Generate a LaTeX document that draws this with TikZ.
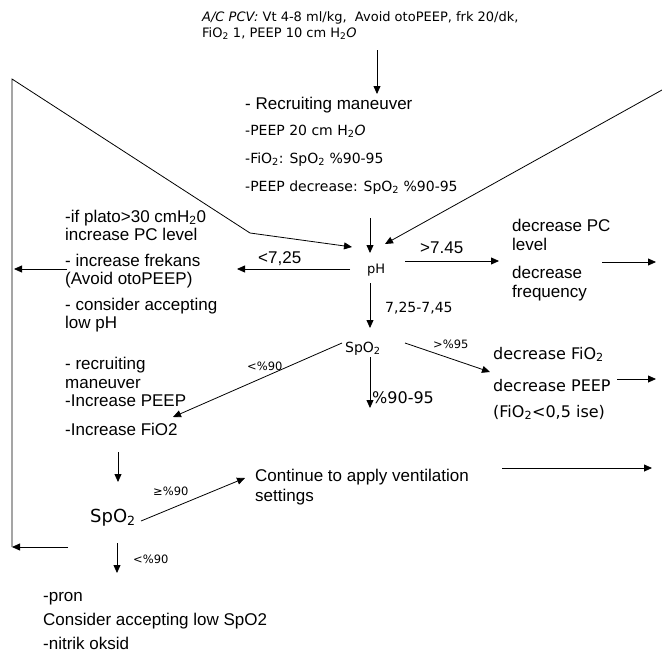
\documentclass[tikz,border=0pt]{standalone}
\usepackage{fontspec}
\setmainfont{Liberation Sans}
\newfontfamily\comic{DejaVu Sans}
\usetikzlibrary{arrows.meta}

\begin{document}
\begin{tikzpicture}[
  x=1pt, y=-1pt,
  arr/.style={-{Triangle[length=8pt,width=7pt]}, line width=0.8pt},
  txt/.style={anchor=base west, inner sep=0pt, align=left, font=\fontsize{17}{18}\selectfont},
  ctxt/.style={anchor=base west, inner sep=0pt, align=left, font=\comic\fontsize{14}{16}\selectfont},
  small/.style={font=\comic\fontsize{11.5}{13}\selectfont}
]
\useasboundingbox (0,0) rectangle (662,653);

%======================
% START + RECRUITING
%======================

% nodes (multi-line nodes sit on their last line)
\node[ctxt, font=\comic\fontsize{13}{16}\selectfont] (start) at (202,37)
  {\textit{A/C PCV:} Vt 4-8 ml/kg,\ \ Avoid otoPEEP, frk 20/dk,\\FiO\textsubscript{2} 1, PEEP 10 cm H\textsubscript{2}\textit{O}};
\node[txt] (rm) at (245,109) {- Recruiting maneuver};
\node[ctxt, font=\comic\fontsize{14}{28}\selectfont] (steps) at (245,191)
  {-PEEP 20 cm H\textsubscript{2}\textit{O}\\-FiO\textsubscript{2}: SpO\textsubscript{2} \%90-95\\-PEEP decrease: SpO\textsubscript{2} \%90-95};

% arrows
\coordinate (startS) at (377,50);
\coordinate (rmN) at (377,94);
\draw[arr] (startS) -- (rmN);

%======================
% pH
%======================

\node[ctxt, font=\comic\fontsize{13}{16}\selectfont] (ph) at (367,273) {pH};
\coordinate (stepsS) at (370,218);
\coordinate (phN) at (370,253);
\draw[arr] (stepsS) -- (phN);

% low pH
\node[txt] (lt725) at (258,263) {<7,25};
\node[txt] (lowph) at (65,328)
  {-if plato>30 cmH\textsubscript{2}0\\increase PC level\\[8pt]- increase frekans\\(Avoid otoPEEP)\\[8pt]- consider accepting\\low pH};
\coordinate (phW) at (350,269);
\coordinate (lowphE) at (237,269);
\draw[arr] (phW) -- (lowphE);
\coordinate (lowphW) at (67,269);
\coordinate (loopL) at (14,269);
\draw[arr] (lowphW) -- (loopL);

% high pH
\node[txt] (gt745) at (420,253) {>7.45};
\node[txt, font=\fontsize{17}{19}\selectfont] (highph) at (512,297)
  {decrease PC\\level\\[9pt]decrease\\frequency};
\coordinate (phE) at (405,261);
\coordinate (highphW) at (499,261);
\draw[arr] (phE) -- (highphW);
\coordinate (highphE) at (602,262);
\coordinate (highphOut) at (656,262);
\draw[arr] (highphE) -- (highphOut);

% normal pH
\node[ctxt] (range) at (385,312) {7,25-7,45};
\coordinate (phS) at (370,283);
\coordinate (spoN) at (370,328);
\draw[arr] (phS) -- (spoN);

%======================
% SpO2
%======================

\node[ctxt] (spo) at (345,352) {SpO\textsubscript{2}};

% high SpO2
\node[ctxt, small] (gt95) at (433,348) {>\%95};
\node[ctxt, font=\comic\fontsize{16}{26}\selectfont] (highspo) at (493,417)
  {decrease FiO\textsubscript{2}\\[6pt]decrease PEEP\\(FiO\textsubscript{2}<0,5 ise)};
\coordinate (spoE) at (405,343);
\coordinate (highspoW) at (490,372);
\draw[arr] (spoE) -- (highspoW);
\coordinate (highspoE) at (617,379);
\coordinate (highspoOut) at (656,379);
\draw[arr] (highspoE) -- (highspoOut);

% normal SpO2
\node[ctxt, font=\comic\fontsize{16}{18}\selectfont] (inrange) at (372,403) {\%90-95};
\coordinate (spoS) at (370,357);
\coordinate (inrangeS) at (370,408);
\draw[arr] (spoS) -- (inrangeS);

% low SpO2
\node[ctxt, small] (lt90) at (247,370) {<\%90};
\node[txt, font=\fontsize{17}{18.5}\selectfont] (lowspo) at (65,435)
  {- recruiting\\maneuver\\-Increase PEEP\\[10pt]-Increase FiO2};
\coordinate (spoW) at (342,343);
\coordinate (lowspoE) at (173,417);
\draw[arr] (spoW) -- (lowspoE);

%======================
% SECOND SpO2
%======================

\node[ctxt, font=\comic\fontsize{18}{20}\selectfont] (spob) at (90,522) {SpO\textsubscript{2}};
\coordinate (lowspoS) at (118,452);
\coordinate (spobN) at (118,482);
\draw[arr] (lowspoS) -- (spobN);

% continue
\node[ctxt, small] (ge90) at (153,495) {≥\%90};
\node[txt, font=\fontsize{17}{20}\selectfont] (cont) at (255,501)
  {Continue to apply ventilation\\settings};
\coordinate (spobE) at (141,521);
\coordinate (contW) at (245,478);
\draw[arr] (spobE) -- (contW);
\coordinate (contE) at (502,468);
\coordinate (contOut) at (652,468);
\draw[arr] (contE) -- (contOut);

% rescue
\node[ctxt, small] (lt90b) at (133,563) {<\%90};
\node[txt, font=\fontsize{17}{24}\selectfont] (rescue) at (43,649)
  {-pron\\Consider accepting low SpO2\\-nitrik oksid};
\coordinate (spobS) at (117,543);
\coordinate (rescueN) at (117,573);
\draw[arr] (spobS) -- (rescueN);

%======================
% LOOP BACK TO pH
%======================

\coordinate (loopIn) at (68,547);
\coordinate (loopB) at (12,547);
\coordinate (loopT) at (12,79);
\coordinate (loopK) at (250,233);
\coordinate (phNW) at (352,247);
\draw[arr] (loopIn) -- (loopB);
\draw[arr] (loopB) -- (loopT) -- (loopK) -- (phNW);

% from the right
\coordinate (rightIn) at (662,90);
\coordinate (phNE) at (385,244);
\draw[arr] (rightIn) -- (phNE);

\end{tikzpicture}
\end{document}
